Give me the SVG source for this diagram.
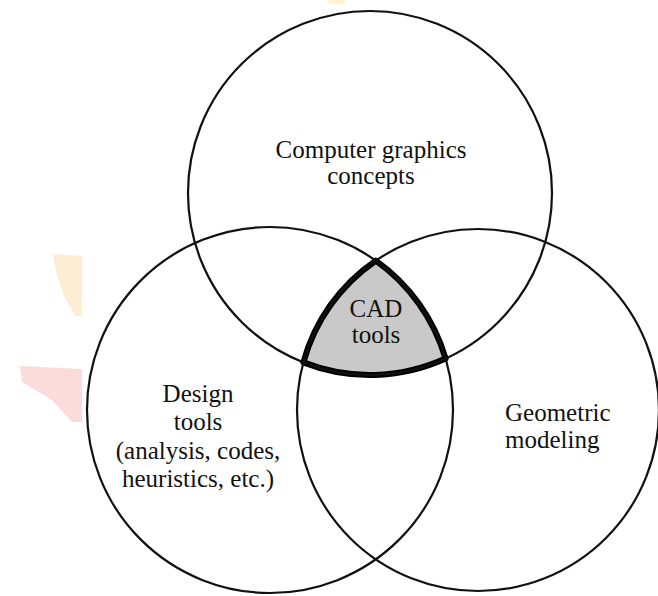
<svg xmlns="http://www.w3.org/2000/svg" width="658" height="596" viewBox="0 0 658 596">
  <style>
    .c { fill: none; stroke: #111; stroke-width: 2.2; }
    .t { font-family: "Liberation Serif", "Times New Roman", serif; font-size: 25px; fill: #111; text-anchor: middle; }
    .cad { fill: #c9c9c9; stroke: #000; stroke-width: 6; stroke-linejoin: round; }
  </style>
  <rect width="658" height="596" fill="#ffffff"/>
  <g id="watermark" opacity="0.9">
    <polygon points="53,254 82,256 82,316 75,316 64,296 56,272" fill="#fdeccf"/>
    <polygon points="20,366 82,369 82,422 72,422 52,400 22,382" fill="#fcd8d8"/>
    <polygon points="327,0 346,0 344,4 330,4" fill="#fdf3cc"/>
  </g>
  <g id="cad-tools">
    <path class="cad" d="M375.75,260.65 A181,181 0 0 0 303.4,362.4 A182,182 0 0 0 445.6,358.6 A183,183 0 0 0 375.75,260.65 Z"/>
    <text class="t" x="376" y="317">CAD</text>
    <text class="t" x="376" y="343">tools</text>
  </g>
  <g id="computer-graphics">
    <circle class="c" cx="370" cy="193" r="182"/>
    <text class="t" x="371" y="158">Computer graphics</text>
    <text class="t" x="371" y="184">concepts</text>
  </g>
  <g id="design-tools">
    <circle class="c" cx="270" cy="410" r="183"/>
    <text class="t" x="198" y="402">Design</text>
    <text class="t" x="198" y="430">tools</text>
    <text class="t" x="198" y="459">(analysis, codes,</text>
    <text class="t" x="198" y="487">heuristics, etc.)</text>
  </g>
  <g id="geometric-modeling">
    <circle class="c" cx="478" cy="410" r="181"/>
    <text class="t" x="505" y="421" style="text-anchor:start">Geometric</text>
    <text class="t" x="505" y="448" style="text-anchor:start">modeling</text>
  </g>
  <g id="connectors"></g>
</svg>
